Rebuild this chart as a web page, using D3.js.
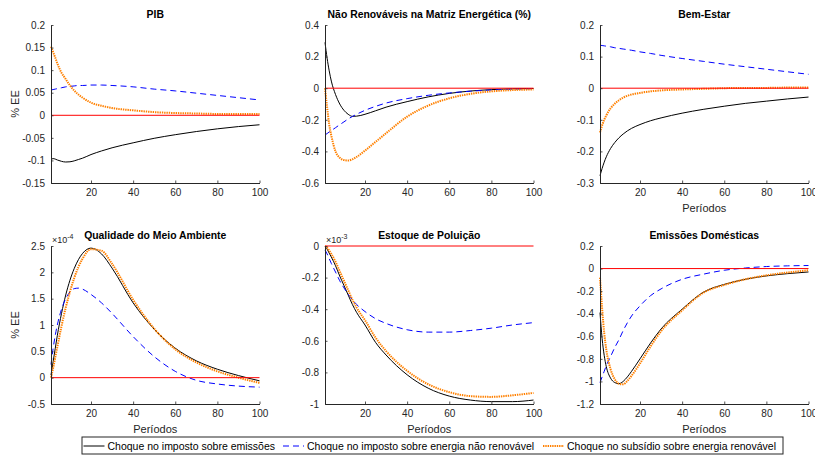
<!DOCTYPE html>
<html>
<head>
<meta charset="utf-8">
<script src="https://cdn.jsdelivr.net/npm/d3@7"></script>
<style>
  html, body { margin: 0; padding: 0; background: #fff; }
  svg { display: block; font-family: "Liberation Sans", Arial, Helvetica, sans-serif; }
</style>
</head>
<body>
<svg id="chart" width="815" height="455"></svg>
<script>
// ---------------- DATA ----------------
const periods = [1, 2, 3, 4, 6, 8, 10, 12, 14, 16, 20, 25, 30, 40, 50, 60, 70, 80, 90, 100];
const xTicks = [20, 40, 60, 80, 100];

const seriesNames = [
  "Choque no imposto sobre emissões",
  "Choque no imposto sobre energia não renovável",
  "Choque no subsídio sobre energia renovável"
];

// PIB
const pibEmissoes   = [-0.098, -0.096, -0.097, -0.099, -0.102, -0.1035, -0.103, -0.101, -0.098, -0.095, -0.087, -0.079, -0.072, -0.061, -0.051, -0.043, -0.036, -0.030, -0.025, -0.021];
const pibNaoRenov   = [0.056, 0.057, 0.058, 0.059, 0.061, 0.063, 0.064, 0.065, 0.066, 0.066, 0.067, 0.067, 0.066, 0.063, 0.058, 0.054, 0.049, 0.044, 0.039, 0.034];
const pibSubsidio   = [0.152, 0.140, 0.128, 0.115, 0.094, 0.080, 0.066, 0.055, 0.046, 0.039, 0.028, 0.021, 0.016, 0.011, 0.007, 0.005, 0.004, 0.003, 0.003, 0.003];
const pibTicks = [-0.15, -0.1, -0.05, 0, 0.05, 0.1, 0.15, 0.2];

// Não Renováveis na Matriz Energética (%)
const nrEmissoes    = [0.29, 0.19, 0.11, 0.045, -0.04, -0.10, -0.14, -0.165, -0.178, -0.177, -0.165, -0.143, -0.12, -0.085, -0.055, -0.033, -0.018, -0.009, -0.004, -0.002];
const nrNaoRenov    = [-0.296, -0.287, -0.277, -0.268, -0.250, -0.231, -0.213, -0.195, -0.179, -0.165, -0.140, -0.115, -0.094, -0.066, -0.045, -0.030, -0.019, -0.011, -0.006, -0.003];
const nrSubsidio    = [0.0, -0.12, -0.23, -0.30, -0.40, -0.44, -0.455, -0.458, -0.45, -0.435, -0.395, -0.34, -0.285, -0.18, -0.11, -0.064, -0.036, -0.02, -0.012, -0.008];
const nrTicks = [-0.6, -0.4, -0.2, 0, 0.2, 0.4];

// Bem-Estar
const beEmissoes    = [-0.277, -0.254, -0.234, -0.217, -0.191, -0.172, -0.157, -0.145, -0.135, -0.127, -0.115, -0.103, -0.094, -0.079, -0.067, -0.057, -0.048, -0.041, -0.034, -0.028];
const beNaoRenov    = [0.136, 0.135, 0.134, 0.133, 0.131, 0.128, 0.126, 0.124, 0.122, 0.120, 0.115, 0.110, 0.104, 0.094, 0.085, 0.076, 0.068, 0.060, 0.052, 0.044];
const beSubsidio    = [-0.14, -0.118, -0.10, -0.086, -0.064, -0.049, -0.038, -0.030, -0.024, -0.020, -0.015, -0.010, -0.007, -0.004, -0.002, 0.0, 0.001, 0.001, 0.002, 0.002];
const beTicks = [-0.3, -0.2, -0.1, 0, 0.1, 0.2];

// Qualidade do Meio Ambiente (x10^-4)
const qmEmissoes    = [0.05, 0.3, 0.55, 0.8, 1.22, 1.57, 1.85, 2.07, 2.24, 2.36, 2.46, 2.35, 2.08, 1.42, 0.92, 0.56, 0.32, 0.16, 0.04, -0.06];
const qmNaoRenov    = [0.25, 0.55, 0.8, 1.0, 1.3, 1.5, 1.63, 1.69, 1.70, 1.68, 1.58, 1.42, 1.22, 0.78, 0.40, 0.12, -0.05, -0.12, -0.16, -0.18];
const qmSubsidio    = [0.0, 0.18, 0.38, 0.58, 0.98, 1.33, 1.63, 1.89, 2.10, 2.26, 2.44, 2.41, 2.16, 1.48, 0.93, 0.54, 0.29, 0.12, 0.0, -0.10];
const qmTicks = [-0.5, 0, 0.5, 1, 1.5, 2, 2.5];

// Estoque de Poluição (x10^-3)
const epEmissoes    = [0.0, -0.02, -0.045, -0.07, -0.125, -0.19, -0.25, -0.31, -0.37, -0.42, -0.50, -0.61, -0.69, -0.815, -0.90, -0.95, -0.975, -0.985, -0.985, -0.975];
const epNaoRenov    = [-0.025, -0.05, -0.08, -0.11, -0.165, -0.22, -0.265, -0.305, -0.34, -0.37, -0.415, -0.46, -0.49, -0.53, -0.545, -0.545, -0.535, -0.52, -0.50, -0.485];
const epSubsidio    = [0.0, -0.01, -0.03, -0.05, -0.10, -0.16, -0.22, -0.28, -0.34, -0.39, -0.47, -0.58, -0.665, -0.79, -0.875, -0.925, -0.95, -0.955, -0.945, -0.93];
const epTicks = [-1, -0.8, -0.6, -0.4, -0.2, 0];

// Emissões Domésticas
const edEmissoes    = [-0.39, -0.62, -0.77, -0.87, -0.97, -1.01, -1.02, -1.0, -0.96, -0.91, -0.80, -0.66, -0.535, -0.36, -0.21, -0.14, -0.095, -0.065, -0.045, -0.03];
const edNaoRenov    = [-1.01, -0.96, -0.91, -0.86, -0.78, -0.70, -0.63, -0.55, -0.48, -0.42, -0.33, -0.24, -0.18, -0.095, -0.05, -0.015, 0.005, 0.018, 0.024, 0.027];
const edSubsidio    = [-0.08, -0.35, -0.57, -0.72, -0.89, -0.98, -1.02, -1.025, -0.995, -0.95, -0.84, -0.69, -0.555, -0.37, -0.215, -0.145, -0.095, -0.06, -0.035, -0.015];
const edTicks = [-1.2, -1, -0.8, -0.6, -0.4, -0.2, 0, 0.2];

// ---------------- LAYOUT ----------------
const panels = [
  { title: "PIB", series: [pibEmissoes, pibNaoRenov, pibSubsidio], yTicks: pibTicks, col: 0, row: 0, ylabel: true, xlabel: false, exp: null },
  { title: "Não Renováveis na Matriz Energética (%)", series: [nrEmissoes, nrNaoRenov, nrSubsidio], yTicks: nrTicks, col: 1, row: 0, ylabel: false, xlabel: false, exp: null },
  { title: "Bem-Estar", series: [beEmissoes, beNaoRenov, beSubsidio], yTicks: beTicks, col: 2, row: 0, ylabel: false, xlabel: true, exp: null },
  { title: "Qualidade do Meio Ambiente", series: [qmEmissoes, qmNaoRenov, qmSubsidio], yTicks: qmTicks, col: 0, row: 1, ylabel: true, xlabel: true, exp: "-4" },
  { title: "Estoque de Poluição", series: [epEmissoes, epNaoRenov, epSubsidio], yTicks: epTicks, col: 1, row: 1, ylabel: false, xlabel: true, exp: "-3" },
  { title: "Emissões Domésticas", series: [edEmissoes, edNaoRenov, edSubsidio], yTicks: edTicks, col: 2, row: 1, ylabel: false, xlabel: true, exp: null }
];

const colLeft = [51, 325, 600];
const plotW = 208.5;
const rowTop = [25, 246];
const plotH = 158;

const styles = [
  { color: "#000000", width: 1, dash: null },
  { color: "#0000ff", width: 1, dash: "6,4" },
  { color: "#ff8000", width: 2, dash: "1.4,0.9" }
];
const axisColor = "#262626";

const svg = d3.select("#chart");
const fmt = v => String(+v.toFixed(4));

panels.forEach(p => {
  const x0 = colLeft[p.col], y0 = rowTop[p.row];
  const yExtent = d3.extent(p.yTicks);
  const x = d3.scaleLinear().domain([1, 100]).range([x0, x0 + plotW]);
  const y = d3.scaleLinear().domain(yExtent).range([y0 + plotH, y0]);

  const g = svg.append("g");

  // series
  const line = d3.line().x((d, i) => x(periods[i])).y(d => y(d)).curve(d3.curveMonotoneX);
  p.series.forEach((s, i) => {
    const st = styles[i];
    g.append("path")
      .datum(s)
      .attr("d", line)
      .attr("fill", "none")
      .attr("stroke", st.color)
      .attr("stroke-width", st.width)
      .attr("stroke-dasharray", st.dash)
      .attr("stroke-linejoin", "round");
  });

  // red zero line
  g.append("line")
    .attr("x1", x(1)).attr("x2", x(100))
    .attr("y1", y(0)).attr("y2", y(0))
    .attr("stroke", "#ff0000").attr("stroke-width", 1);

  // axes
  const xAxis = d3.axisBottom(x).tickValues(xTicks).tickSize(-2.5).tickSizeOuter(0).tickPadding(6).tickFormat(fmt);
  const yAxis = d3.axisLeft(y).tickValues(p.yTicks).tickSize(-2.5).tickSizeOuter(0).tickPadding(6).tickFormat(fmt);

  const gx = g.append("g").attr("transform", `translate(0,${y0 + plotH})`).call(xAxis);
  const gy = g.append("g").attr("transform", `translate(${x0},0)`).call(yAxis);
  [gx, gy].forEach(a => {
    a.select(".domain").attr("stroke", axisColor).attr("stroke-width", 1);
    a.selectAll(".tick line").attr("stroke", axisColor).attr("stroke-width", 0.8);
    a.selectAll(".tick text").attr("fill", axisColor).attr("font-size", 10)
      .attr("font-family", "Liberation Sans, Arial, sans-serif");
  });

  // title
  g.append("text")
    .attr("x", x0 + plotW / 2).attr("y", y0 - 7)
    .attr("text-anchor", "middle")
    .attr("font-size", 10.4).attr("font-weight", "bold").attr("fill", "#000")
    .text(p.title);

  if (p.exp) {
    const t = g.append("text")
      .attr("x", x0 + 1).attr("y", y0 - 3)
      .attr("font-size", 9).attr("fill", axisColor);
    t.append("tspan").text("×10");
    t.append("tspan").attr("font-size", 7).attr("dy", -4).text(p.exp);
  }

  if (p.xlabel) {
    g.append("text")
      .attr("x", x0 + plotW / 2).attr("y", y0 + plotH + 29)
      .attr("text-anchor", "middle")
      .attr("font-size", 11).attr("fill", axisColor)
      .text("Períodos");
  }
  if (p.ylabel) {
    g.append("text")
      .attr("transform", `translate(${x0 - 32},${y0 + plotH / 2}) rotate(-90)`)
      .attr("text-anchor", "middle")
      .attr("font-size", 11).attr("fill", axisColor)
      .text("% EE");
  }
});

// ---------------- LEGEND ----------------
const lg = svg.append("g");
lg.append("rect")
  .attr("x", 82).attr("y", 437).attr("width", 701).attr("height", 17)
  .attr("fill", "#fff").attr("stroke", axisColor).attr("stroke-width", 1);

const legendX = [83.5, 283, 543];
seriesNames.forEach((name, i) => {
  const st = styles[i];
  const lx = legendX[i];
  lg.append("line")
    .attr("x1", lx).attr("x2", lx + 21)
    .attr("y1", 446).attr("y2", 446)
    .attr("stroke", st.color).attr("stroke-width", st.width)
    .attr("stroke-dasharray", st.dash);
  lg.append("text")
    .attr("x", lx + 24).attr("y", 449.5)
    .attr("font-size", 10.5).attr("fill", "#000")
    .text(name);
});
</script>
</body>
</html>
